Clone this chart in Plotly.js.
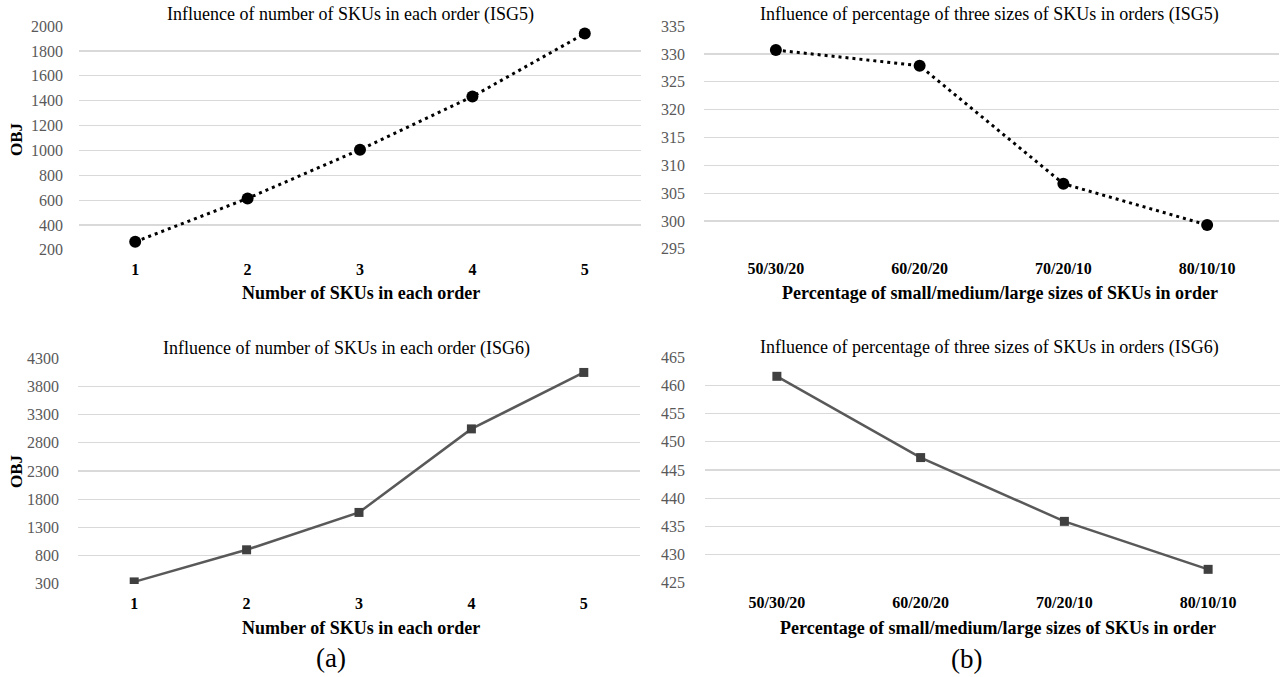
<!DOCTYPE html>
<html>
<head>
<meta charset="utf-8">
<script src="https://cdn.plot.ly/plotly-3.0.1.min.js"></script>
<style>html,body{margin:0;padding:0;background:#fff;}#chart{width:1282px;height:677px;}</style>
</head>
<body>
<div id="chart"></div>
<script>
// ---- data ----
var skuCats = ['1', '2', '3', '4', '5'];
var pctCats = ['50/30/20', '60/20/20', '70/20/10', '80/10/10'];
var isg5Num = [265, 614, 1006, 1433, 1940];
var isg5Pct = [330.7, 327.9, 306.7, 299.3];
var isg6Num = [335, 904, 1566, 3046, 4046];
var isg6Pct = [461.6, 447.2, 435.9, 427.4];

var yTicks5Num = [200, 2000, 200];
var yTicks5Pct = [295, 335, 5];
var yTicks6Num = [300, 4300, 500];
var yTicks6Pct = [425, 465, 5];

var titles = [
  'Influence of number of SKUs in each order (ISG5)',
  'Influence of percentage of three sizes of SKUs in orders (ISG5)',
  'Influence of number of SKUs in each order (ISG6)',
  'Influence of percentage of three sizes of SKUs in orders (ISG6)'
];
var xTitleNum = 'Number of SKUs in each order';
var xTitlePct = 'Percentage of small/medium/large sizes of SKUs in order';
var yTitle = 'OBJ';
var panelLabels = ['(a)', '(b)'];

// ---- helpers ----
var W = 1282, H = 677;
var serif = 'Liberation Serif, Times New Roman, serif';
function px(x) { return x / W; }
function py(y) { return 1 - y / H; }

var dotted = { color: '#000000', width: 3, dash: '3px,4px' };
var solid = { color: '#595959', width: 2.5 };

var traces = [
  { x: skuCats, y: isg5Num, type: 'scatter', mode: 'lines+markers', xaxis: 'x', yaxis: 'y',
    line: dotted, marker: { symbol: 'circle', size: 12, color: '#000000' } },
  { x: pctCats, y: isg5Pct, type: 'scatter', mode: 'lines+markers', xaxis: 'x2', yaxis: 'y2',
    line: dotted, marker: { symbol: 'circle', size: 12, color: '#000000' } },
  { x: skuCats, y: isg6Num, type: 'scatter', mode: 'lines+markers', xaxis: 'x3', yaxis: 'y3',
    line: solid, marker: { symbol: 'square', size: 9, color: '#404040' } },
  { x: pctCats, y: isg6Pct, type: 'scatter', mode: 'lines+markers', xaxis: 'x4', yaxis: 'y4',
    line: solid, marker: { symbol: 'square', size: 9, color: '#404040' } }
];

function xAxis(cats, x0, x1, anchor) {
  return {
    domain: [px(x0), px(x1)], anchor: anchor, type: 'category',
    range: [-0.5, cats.length - 0.5], showgrid: false, zeroline: false, showline: false,
    ticks: '', ticklabelstandoff: 8,
    tickfont: { family: serif, size: 16, color: '#000000', weight: 'bold' }
  };
}
function yAxis(t, y0, y1, anchor, standoff) {
  var pad = (t[1] - t[0]) * 0.0005;
  return {
    domain: [py(y1), py(y0)], anchor: anchor, range: [t[0] - pad, t[1] + pad],
    tick0: t[0], dtick: t[2], showgrid: true, gridcolor: '#d9d9d9', gridwidth: 1.2,
    zeroline: false, showline: false, ticks: '', ticklabelstandoff: standoff,
    tickfont: { family: serif, size: 16, color: '#595959' }
  };
}

var ann = [];
function addText(text, x, y, size, bold, angle) {
  ann.push({ text: text, xref: 'paper', yref: 'paper', x: px(x), y: py(y),
    xanchor: 'center', yanchor: 'middle', showarrow: false, textangle: angle || 0,
    font: { family: serif, size: size, color: '#000000', weight: bold ? 'bold' : 'normal' } });
}
addText(titles[0], 350, 15, 18, false);
addText(titles[1], 989, 15, 18, false);
addText(titles[2], 346, 348, 18, false);
addText(titles[3], 990, 347, 18, false);
addText(xTitleNum, 361, 293, 18, true);
addText(xTitlePct, 1000, 293, 18, true);
addText(xTitleNum, 361, 628, 18, true);
addText(xTitlePct, 998, 628, 18, true);
addText(yTitle, 16, 139, 17, true, -90);
addText(yTitle, 16, 471, 17, true, -90);
addText(panelLabels[0], 331, 658, 27, false);
addText(panelLabels[1], 966, 659, 27, false);

var layout = {
  width: W, height: H, margin: { l: 0, r: 0, t: 0, b: 0 },
  paper_bgcolor: '#ffffff', plot_bgcolor: '#ffffff', showlegend: false,
  xaxis: xAxis(skuCats, 79, 641, 'y'),
  yaxis: yAxis(yTicks5Num, 26, 250, 'x', 15),
  xaxis2: xAxis(pctCats, 704, 1279, 'y2'),
  yaxis2: yAxis(yTicks5Pct, 26, 249, 'x2', 18),
  xaxis3: xAxis(skuCats, 78, 640, 'y3'),
  yaxis3: yAxis(yTicks6Num, 358, 584, 'x3', 18),
  xaxis4: xAxis(pctCats, 705, 1280, 'y4'),
  yaxis4: yAxis(yTicks6Pct, 357, 583, 'x4', 19),
  annotations: ann
};

Plotly.newPlot('chart', traces, layout, { displayModeBar: false, staticPlot: true });
</script>
</body>
</html>
